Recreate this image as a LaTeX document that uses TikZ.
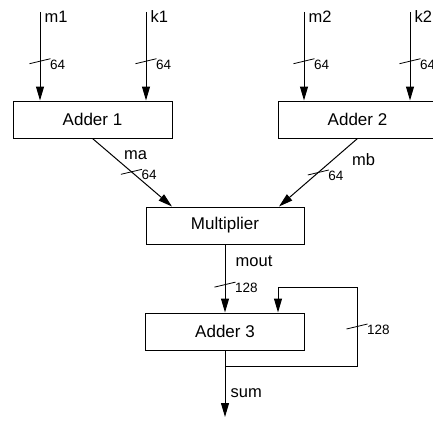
\documentclass[tikz,border=0pt]{standalone}
\usepackage{fontspec}
\setmainfont{Liberation Sans}
\usetikzlibrary{arrows.meta,calc}
\tikzset{
  block/.style={draw, line width=1pt, minimum width=159pt, minimum height=37pt, inner sep=0pt, font=\fontsize{17}{20}\selectfont},
  wire/.style={line width=1pt},
  arr/.style={wire, -{Triangle[length=14pt,width=8pt]}},
  sig/.style={anchor=west, inner sep=0pt, font=\fontsize{16.5}{19}\selectfont},
  busw/.style={anchor=west, inner sep=0pt, font=\fontsize{13.5}{16}\selectfont},
  tickm/.style={line width=0.8pt}
}
\newcommand\busmark[3]{%
  \draw[tickm] ($(#1)+(-10.5,2.5)$) -- ($(#1)+(10.5,-2.5)$);
  \node[busw] (#2) at ($(#1)+(10,3.5)$) {#3};}
\begin{document}
\begin{tikzpicture}[x=1pt,y=-1pt]
\useasboundingbox (0,0) rectangle (433,420);
% blocks
\node[block] (a1) at (92.5,119.5) {Adder 1};
\node[block] (a2) at (357.5,119.5) {Adder 2};
\node[block, minimum width=158pt] (mul) at (225,225.5) {Multiplier};
\node[block] (a3) at (225,331.5) {Adder 3};
% inputs
\coordinate (m1) at (40,12);
\coordinate (k1) at (146,12);
\coordinate (m2) at (304,12);
\coordinate (k2) at (410,12);
\draw[arr] (m1) -- (a1.north -| m1) coordinate[pos=0.556] (t1);
\draw[arr] (k1) -- (a1.north -| k1) coordinate[pos=0.556] (t2);
\draw[arr] (m2) -- (a2.north -| m2) coordinate[pos=0.556] (t3);
\draw[arr] (k2) -- (a2.north -| k2) coordinate[pos=0.556] (t4);
\node[sig] (lm1) at (44.5,17) {m1};
\node[sig] (lk1) at (150.5,17) {k1};
\node[sig] (lm2) at (308.5,17) {m2};
\node[sig] (lk2) at (414.5,17) {k2};
\busmark{t1}{b1}{64}
\busmark{t2}{b2}{64}
\busmark{t3}{b3}{64}
\busmark{t4}{b4}{64}
% adders to multiplier
\draw[arr] (a1.south) -- ([xshift=-53pt]mul.north) coordinate[pos=0.49] (t5);
\draw[arr] (a2.south) -- ([xshift=54pt]mul.north) coordinate[pos=0.5] (t6);
\node[sig] (lma) at (124,155) {ma};
\node[sig] (lmb) at (352,160) {mb};
\busmark{t5}{b5}{64}
\busmark{t6}{b6}{64}
% multiplier to adder 3
\draw[arr] (mul.south) -- (a3.north) coordinate[pos=0.59] (t7);
\node[sig] (lmout) at (235.5,261) {mout};
\busmark{t7}{b7}{128}
% feedback
\coordinate (j) at (225,366);
\coordinate (r1) at (357,366);
\coordinate (r2) at (357,287);
\coordinate (l2) at (278,287);
\draw[arr] (j) -- (r1) -- (r2) coordinate[pos=0.5] (t8) -- (l2) -- (a3.north -| l2);
\busmark{t8}{b8}{128}
% output
\coordinate (out) at (225,417);
\draw[arr] (a3.south) -- (out);
\node[sig] (lsum) at (230.5,393) {sum};
\end{tikzpicture}
\end{document}
